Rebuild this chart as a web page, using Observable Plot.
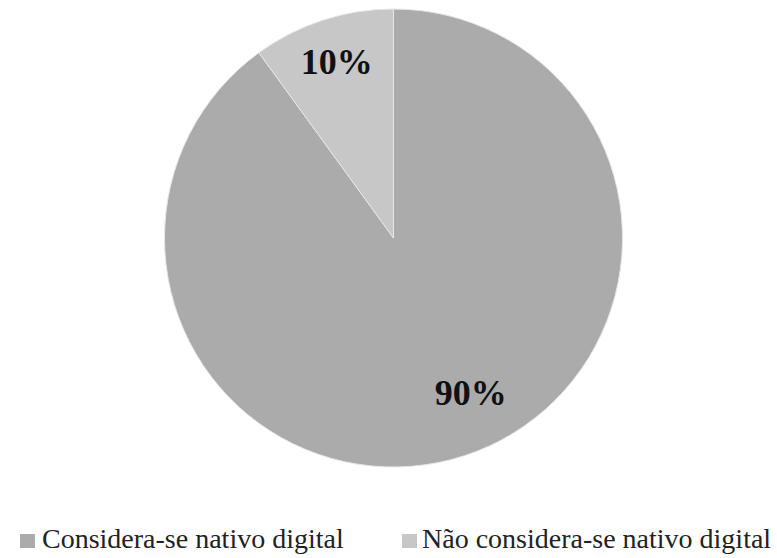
<!DOCTYPE html>
<html>
<head>
<meta charset="utf-8">
<script src="https://cdn.jsdelivr.net/npm/d3@7"></script>
<script src="https://cdn.jsdelivr.net/npm/@observablehq/plot@0.6"></script>
<style>
  body { margin: 0; background: #fff; }
  #wrap { position: relative; width: 777px; height: 558px; overflow: hidden; }
  #legend { position: absolute; left: 0; top: 480px; width: 777px; height: 78px; }
  .sw { position: absolute; width: 15px; height: 14px; top: 54px; }
  .lt { position: absolute; top: 45px; font-family: "Liberation Serif", "DejaVu Serif", serif; font-size: 28px; line-height: 28px; color: #222; white-space: nowrap; }
</style>
</head>
<body>
<div id="wrap"><div id="chart"></div><div id="legend"></div></div>
<script>
const categories = ["Considera-se nativo digital", "Não considera-se nativo digital"];
const values = [90, 10];
const valueLabels = ["90%", "10%"];
const colors = ["#ababab", "#c7c7c7"];

const color = Plot.scale({color: {type: "ordinal", domain: categories, range: colors}});

const data = categories.map((c, i) => ({category: c, value: values[i], label: valueLabels[i]}));
const arcs = d3.pie().sort(null).value(d => d.value)(data);

// label anchor positions (unit-circle coordinates, y up) derived from the slice angles
const labelFrac = [0.755, 0.81];
const labelNudge = [-0.145, 0];
const labels = arcs.map((a, i) => {
  const mid = (a.startAngle + a.endAngle) / 2 + labelNudge[i];
  return {label: a.data.label, x: labelFrac[i] * Math.sin(mid), y: labelFrac[i] * Math.cos(mid)};
});

function pieMark(index, scales) {
  const cx = scales.x(0), cy = scales.y(0);
  const r = scales.x(1) - scales.x(0);
  const arc = d3.arc().innerRadius(0).outerRadius(r);
  const g = d3.create("svg:g").attr("transform", `translate(${cx},${cy})`);
  g.selectAll("path").data(arcs).join("path")
    .attr("d", arc)
    .attr("fill", d => color.apply(d.data.category))
    .attr("stroke", "#e6e6e6")
    .attr("stroke-width", 1);
  return g.node();
}

const plot = Plot.plot({
  width: 777,
  height: 480,
  marginLeft: 164.5,
  marginRight: 154.5,
  marginTop: 9,
  marginBottom: 13,
  x: {domain: [-1, 1], axis: null},
  y: {domain: [-1, 1], axis: null},
  style: {background: "#fff"},
  marks: [
    pieMark,
    Plot.text(labels, {x: "x", y: "y", text: "label", fontSize: 36, fontWeight: "bold",
      fontFamily: "Liberation Serif, Times New Roman, serif", fill: "#111"})
  ]
});
document.getElementById("chart").appendChild(plot);

const legend = document.getElementById("legend");
const legendX = [[20, 42], [402, 422]];
categories.forEach((c, i) => {
  const sw = document.createElement("div");
  sw.className = "sw";
  sw.style.left = legendX[i][0] + "px";
  sw.style.background = color.apply(c);
  legend.appendChild(sw);
  const t = document.createElement("div");
  t.className = "lt";
  t.style.left = legendX[i][1] + "px";
  t.textContent = c;
  legend.appendChild(t);
});
</script>
</body>
</html>
